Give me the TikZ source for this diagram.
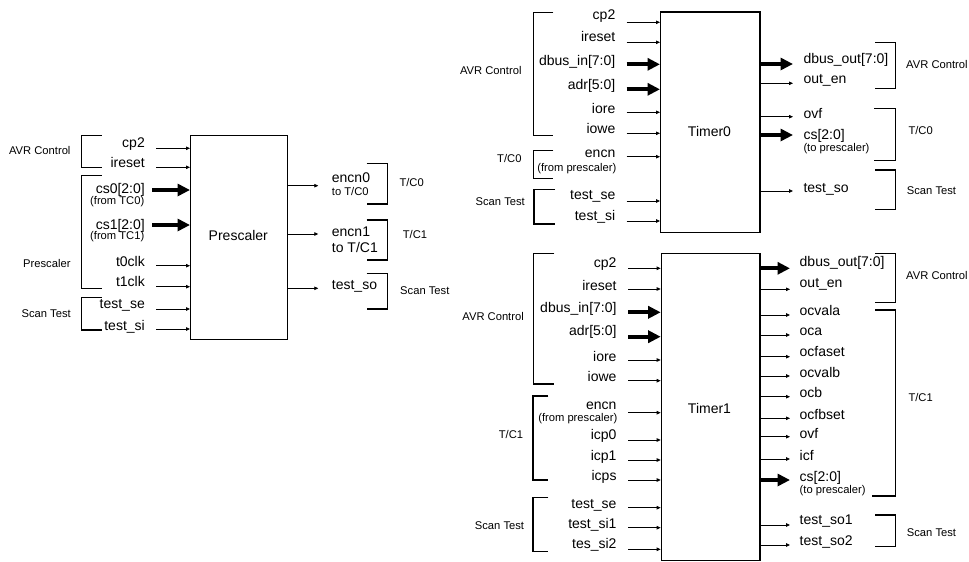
\documentclass[tikz,border=0pt]{standalone}
\usepackage{fontspec}
\setmainfont{Liberation Sans}
\usetikzlibrary{arrows.meta}
\tikzset{
  pinlbl/.style={inner sep=0pt, font=\fontsize{14}{16}\selectfont},
  sublbl/.style={inner sep=0pt, font=\fontsize{11.2}{13}\selectfont},
  grplbl/.style={inner sep=0pt, font=\fontsize{11.2}{13}\selectfont},
  sig/.style={line width=0.8pt, -{Triangle[length=4pt,width=3.5pt]}},
  bus/.style={line width=4pt, -{Triangle[length=12.5pt,width=12pt]}},
  brk/.style={line width=1.3pt},
  blk/.style={draw, line width=1.3pt, inner sep=0pt, anchor=north west},
}
% input pin: name, text, text y, arrow y, box, style
\newcommand\inp[6]{%
  \node[pinlbl, anchor=east] (#1) at (\inx,#3) {#2};
  \coordinate (#1-s) at (\ins,#4);
  \draw[#6] (#1-s) -- (#5.west |- #1-s);
}
% output pin: name, text, text y, arrow y, box, style
\newcommand\outp[6]{%
  \node[pinlbl, anchor=west] (#1) at (\outx,#3) {#2};
  \coordinate (#1-e) at (\oute,#4);
  \draw[#6] (#5.east |- #1-e) -- (#1-e);
}
% left bracket: vx, top, bottom, tick x
\newcommand\lbrk[4]{\draw[brk] (#4,#2) -- (#1,#2) -- (#1,#3) -- (#4,#3);}
% right bracket: vx, top, bottom, top tick x, bottom tick x
\newcommand\rbrk[5]{\draw[brk] (#4,#2) -- (#1,#2) -- (#1,#3) -- (#5,#3);}
\begin{document}
\begin{tikzpicture}[x=1pt,y=-1pt]
\useasboundingbox (0,0) rectangle (969,562);

%================ Prescaler ================
\node[blk, minimum width=97pt, minimum height=204pt] (P) at (190,135) {};
\node[pinlbl] (Ptitle) at (238.3,235) {Prescaler};

\def\inx{145}\def\ins{156}
\inp{p-cp2}{cp2}{144}{148.3}{P}{sig}
\inp{p-ireset}{ireset}{162.3}{167.3}{P}{sig}
\def\ins{152}
\inp{p-cs0}{cs0[2:0]}{189.5}{190}{P}{bus}
\node[sublbl, anchor=east] (p-cs0-sub) at (144.5,201.7) {(from TC0)};
\inp{p-cs1}{cs1[2:0]}{225.8}{225}{P}{bus}
\node[sublbl, anchor=east] (p-cs1-sub) at (144.5,237) {(from TC1)};
\def\ins{156}
\inp{p-t0clk}{t0clk}{261.7}{265.7}{P}{sig}
\inp{p-t1clk}{t1clk}{281.7}{286.7}{P}{sig}
\inp{p-tse}{test\_se}{305.7}{309}{P}{sig}
\inp{p-tsi}{test\_si}{326.7}{329}{P}{sig}

\lbrk{81.7}{135.7}{167.7}{101.7}
\lbrk{81.7}{175.7}{288.3}{101.7}
\lbrk{81.7}{297.7}{330}{101.7}
\node[grplbl, anchor=east] (p-g-avr) at (70.7,150) {AVR Control};
\node[grplbl, anchor=east] (p-g-pre) at (70.7,263.3) {Prescaler};
\node[grplbl, anchor=east] (p-g-scan) at (71,313.3) {Scan Test};

\def\outx{331.7}\def\oute{318.3}
\outp{p-encn0}{encn0}{177.8}{185.7}{P}{sig}
\node[sublbl, anchor=west] (p-encn0-sub) at (331.7,191.7) {to T/C0};
\outp{p-encn1}{encn1}{231.7}{234}{P}{sig}
\node[pinlbl, anchor=west] (p-encn1-sub) at (331.7,247) {to T/C1};
\outp{p-tso}{test\_so}{286.7}{288.3}{P}{sig}

\rbrk{387.3}{163.3}{204}{366.7}{366.7}
\rbrk{387.3}{220}{260}{366.7}{366.7}
\rbrk{387.3}{273.3}{309}{366.7}{366.7}
\node[grplbl, anchor=west] (p-g-tc0) at (399.3,182.8) {T/C0};
\node[grplbl, anchor=west] (p-g-tc1) at (402.7,234.3) {T/C1};
\node[grplbl, anchor=west] (p-g-scan2) at (400,290.8) {Scan Test};

%================ Timer0 ================
\node[blk, minimum width=99.3pt, minimum height=220.4pt] (T0) at (660,11.3) {};
\node[pinlbl] (T0title) at (709.5,131) {Timer0};

\def\inx{615.5}\def\ins{626.7}
\inp{a-cp2}{cp2}{16}{22.3}{T0}{sig}
\inp{a-ireset}{ireset}{36.7}{42.3}{T0}{sig}
\inp{a-dbus}{dbus\_in[7:0]}{62.2}{64.3}{T0}{bus}
\inp{a-adr}{adr[5:0]}{85.5}{89.3}{T0}{bus}
\inp{a-iore}{iore}{108.3}{112.3}{T0}{sig}
\inp{a-iowe}{iowe}{128.3}{133.3}{T0}{sig}
\inp{a-encn}{encn}{154}{156.7}{T0}{sig}
\node[sublbl, anchor=east] (a-encn-sub) at (616.5,168.3) {(from prescaler)};
\inp{a-tse}{test\_se}{196.7}{201}{T0}{sig}
\inp{a-tsi}{test\_si}{216.7}{221}{T0}{sig}

\lbrk{533.3}{12.3}{135.7}{553.3}
\lbrk{533.3}{150.7}{178.3}{553.3}
\lbrk{534}{189.3}{224}{555}
\node[grplbl, anchor=east] (a-g-avr) at (521.7,70) {AVR Control};
\node[grplbl, anchor=east] (a-g-tc0) at (521.7,158.3) {T/C0};
\node[grplbl, anchor=east] (a-g-scan) at (525,201.7) {Scan Test};

\def\outx{803.3}\def\oute{793}
\outp{a-dbo}{dbus\_out[7:0]}{60}{64}{T0}{bus}
\outp{a-oen}{out\_en}{80}{83.3}{T0}{sig}
\outp{a-ovf}{ovf}{113.3}{116.7}{T0}{sig}
\outp{a-cs}{cs[2:0]}{135.8}{135}{T0}{bus}
\node[sublbl, anchor=west] (a-cs-sub) at (803.3,149) {(to prescaler)};
\outp{a-tso}{test\_so}{189.3}{191}{T0}{sig}

\rbrk{895.7}{42.7}{88.3}{875}{875}
\rbrk{895.7}{108.3}{160.7}{874.3}{874.3}
\rbrk{895.7}{170}{209.3}{875}{875}
\node[grplbl, anchor=west] (a-g-avr2) at (906,64.3) {AVR Control};
\node[grplbl, anchor=west] (a-g-tc02) at (908.3,130.8) {T/C0};
\node[grplbl, anchor=west] (a-g-scan2) at (906.7,190.8) {Scan Test};

%================ Timer1 ================
\node[blk, minimum width=98.6pt, minimum height=307.3pt] (T1) at (660.7,252.7) {};
\node[pinlbl] (T1title) at (709.5,408.3) {Timer1};

\def\inx{616.7}\def\ins{628.3}
\inp{b-cp2}{cp2}{264}{268.3}{T1}{sig}
\inp{b-ireset}{ireset}{285}{289}{T1}{sig}
\inp{b-dbus}{dbus\_in[7:0]}{309.3}{312.3}{T1}{bus}
\inp{b-adr}{adr[5:0]}{332.3}{336.7}{T1}{bus}
\inp{b-iore}{iore}{356.7}{360}{T1}{sig}
\inp{b-iowe}{iowe}{376.7}{380.7}{T1}{sig}
\inp{b-encn}{encn}{406.2}{412.7}{T1}{sig}
\node[sublbl, anchor=east] (b-encn-sub) at (617.5,418.3) {(from prescaler)};
\inp{b-icp0}{icp0}{436}{440}{T1}{sig}
\inp{b-icp1}{icp1}{456.7}{460}{T1}{sig}
\inp{b-icps}{icps}{477.3}{480}{T1}{sig}
\inp{b-tse}{test\_se}{505}{507.7}{T1}{sig}
\inp{b-tsi1}{test\_si1}{525}{527.7}{T1}{sig}
\inp{b-tsi2}{tes\_si2}{545}{549.3}{T1}{sig}

\lbrk{533.3}{253.3}{384}{554.3}
\lbrk{533}{396}{480}{548.3}
\lbrk{533}{497.3}{551.7}{548.3}
\node[grplbl, anchor=east] (b-g-avr) at (524,316.7) {AVR Control};
\node[grplbl, anchor=east] (b-g-tc1) at (523.3,434.7) {T/C1};
\node[grplbl, anchor=east] (b-g-scan) at (524.3,525.3) {Scan Test};

\def\outx{799.5}\def\oute{790}
\outp{b-dbo}{dbus\_out[7:0]}{263.3}{268.3}{T1}{bus}
\outp{b-oen}{out\_en}{284.3}{289.3}{T1}{sig}
\outp{b-ocvala}{ocvala}{310.7}{315}{T1}{sig}
\outp{b-oca}{oca}{331.7}{335}{T1}{sig}
\outp{b-ocfaset}{ocfaset}{351.7}{356.7}{T1}{sig}
\outp{b-ocvalb}{ocvalb}{372.7}{376}{T1}{sig}
\outp{b-ocb}{ocb}{392}{396.7}{T1}{sig}
\outp{b-ocfbset}{ocfbset}{414}{418.3}{T1}{sig}
\outp{b-ovf}{ovf}{433.5}{436.7}{T1}{sig}
\outp{b-icf}{icf}{455.7}{459}{T1}{sig}
\outp{b-cs}{cs[2:0]}{478.3}{480}{T1}{bus}
\node[sublbl, anchor=west] (b-cs-sub) at (799.5,490.7) {(to prescaler)};
\outp{b-tso1}{test\_so1}{521}{525}{T1}{sig}
\outp{b-tso2}{test\_so2}{541.7}{545}{T1}{sig}

\rbrk{895.7}{253.3}{302.3}{875}{875}
\rbrk{895.7}{310}{496}{875}{871.7}
\rbrk{895.7}{515}{546.7}{875}{875}
\node[grplbl, anchor=west] (b-g-avr2) at (906,275.7) {AVR Control};
\node[grplbl, anchor=west] (b-g-tc12) at (908.3,397.5) {T/C1};
\node[grplbl, anchor=west] (b-g-scan2) at (906.7,532.5) {Scan Test};

\end{tikzpicture}
\end{document}
